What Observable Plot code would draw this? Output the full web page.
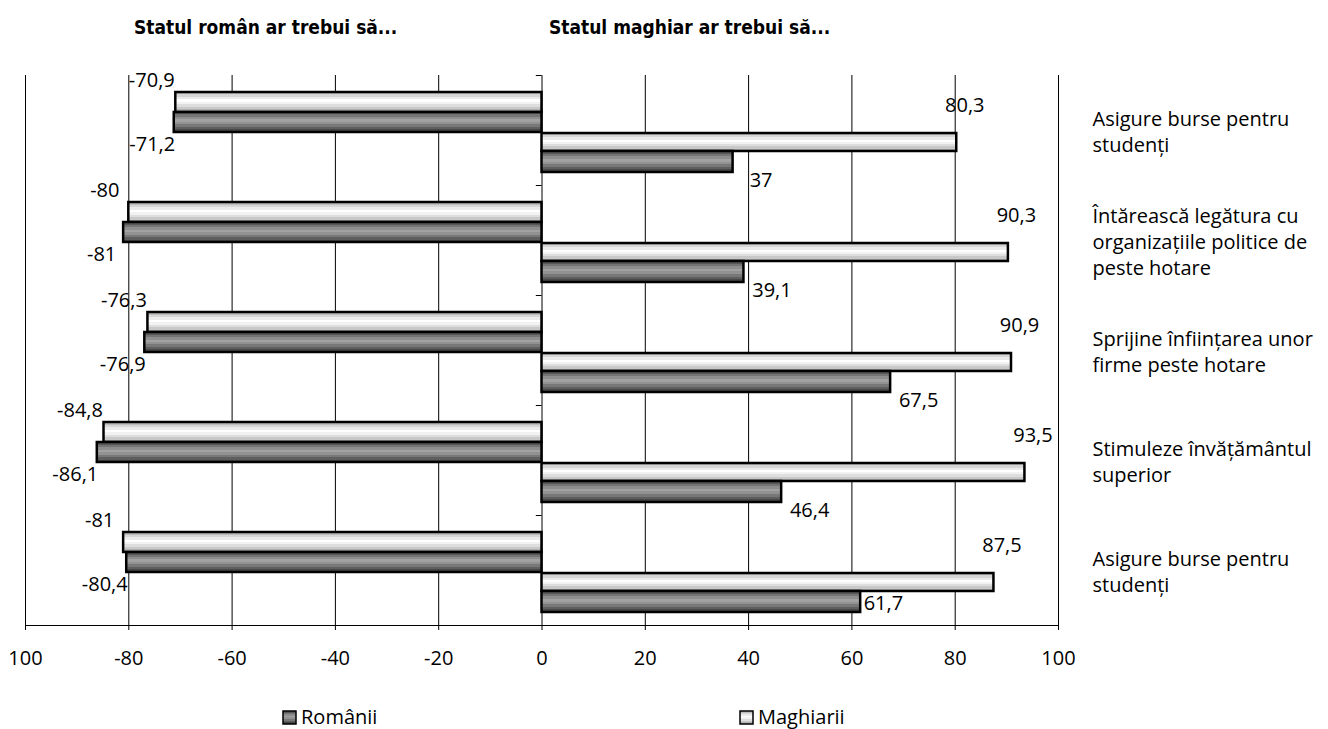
<!DOCTYPE html>
<html><head><meta charset="utf-8">
<script src="https://cdn.jsdelivr.net/npm/d3@7"></script>
<script src="https://cdn.jsdelivr.net/npm/@observablehq/plot@0.6"></script>
<style>
body{margin:0;background:#fff;}
#wrap{position:relative;width:1328px;height:729px;overflow:hidden;}
.title{position:absolute;top:14px;font-family:"Liberation Sans Narrow","DejaVu Sans Condensed",sans-serif;font-weight:bold;font-size:19px;color:#000;line-height:26px;white-space:nowrap;}
.leg{position:absolute;top:704px;font-family:"Open Sans",sans-serif;font-size:20px;color:#000;display:flex;align-items:center;gap:4px;line-height:26px;}
.leg svg{display:block;}
</style></head><body><div id="wrap"></div>
<script>
const categories = [
  "Asigure burse pentru\nstudenți",
  "Întărească legătura cu\norganizațiile politice de\npeste hotare",
  "Sprijine înființarea unor\nfirme peste hotare",
  "Stimuleze învățământul\nsuperior",
  "Asigure burse pentru\nstudenți"
];
const romanStateMaghiarii = [-70.9, -80, -76.3, -84.8, -81];
const romanStateRomanii = [-71.2, -81, -76.9, -86.1, -80.4];
const hungarianStateMaghiarii = [80.3, 90.3, 90.9, 93.5, 87.5];
const hungarianStateRomanii = [37, 39.1, 67.5, 46.4, 61.7];
const xTicks = [-100, -80, -60, -40, -20, 0, 20, 40, 60, 80, 100];
const xTickLabels = ["100", "-80", "-60", "-40", "-20", "0", "20", "40", "60", "80", "100"];
const panelTitles = ["Statul român ar trebui să...", "Statul maghiar ar trebui să..."];
const seriesNames = ["Românii", "Maghiarii"];

const rows = categories.map((c, i) => ({
  i,
  rm: romanStateMaghiarii[i],
  rr: romanStateRomanii[i],
  hm: hungarianStateMaghiarii[i],
  hr: hungarianStateRomanii[i]
}));
const last = categories.length - 1;
const fmt = v => String(v).replace(".", ",");

const lightStops = ["#bdbdbd","#d6d6d6","#ebebeb","#ffffff","#f2f2f2","#dedede","#c8c8c8","#b2b2b2"];
const darkStops = ["#585858","#747474","#8e8e8e","#a2a2a2","#929292","#787878","#5e5e5e","#484848"];

function gradient(defs, id, stops) {
  const g = defs.append("linearGradient").attr("id", id)
    .attr("x1", 0).attr("y1", 0).attr("x2", 0).attr("y2", 1);
  const n = stops.length;
  stops.forEach((c, k) => {
    g.append("stop").attr("offset", k / n).attr("stop-color", c);
    g.append("stop").attr("offset", (k + 1) / n).attr("stop-color", c);
  });
}
const defsMark = () => {
  const defs = d3.create("svg:defs");
  gradient(defs, "gLight", lightStops);
  gradient(defs, "gDark", darkStops);
  return defs.node();
};

const barStyle = {y: "i", stroke: "#000", strokeWidth: 2.5};
const textStyle = {y: "i", fontSize: 20};

const chart = Plot.plot({
  width: 1328,
  height: 729,
  marginLeft: 25,
  marginRight: 270,
  marginTop: 75,
  marginBottom: 104,
  style: {fontFamily: "'Open Sans', sans-serif", fontSize: "20px", color: "#000", background: "transparent"},
  x: {domain: [-100, 100]},
  y: {domain: d3.range(categories.length), padding: 0},
  marks: [
    defsMark,
    Plot.ruleX(xTicks, {stroke: "#000", strokeWidth: 1}),
    Plot.ruleY(d3.range(categories.length), {x1: -1.1, x2: 0, dy: -55, stroke: "#000"}),
    Plot.ruleY([last], {dy: 55, stroke: "#000"}),
    Plot.axisX({ticks: xTicks, tickFormat: d => xTickLabels[xTicks.indexOf(d)], tickSize: 5, tickPadding: 20, fontSize: 20, label: null}),
    Plot.axisY({anchor: "right", tickSize: 0, tickPadding: 34, textAnchor: "start", lineHeight: 1.32, fontSize: 20, label: null, tickFormat: i => categories[i]}),
    Plot.barX(rows, {...barStyle, x1: 0, x2: "rm", fill: "url(#gLight)", insetTop: 17, insetBottom: 73}),
    Plot.barX(rows, {...barStyle, x1: 0, x2: "rr", fill: "url(#gDark)", insetTop: 37, insetBottom: 53}),
    Plot.barX(rows, {...barStyle, x1: 0, x2: "hm", fill: "url(#gLight)", insetTop: 58, insetBottom: 34}),
    Plot.barX(rows, {...barStyle, x1: 0, x2: "hr", fill: "url(#gDark)", insetTop: 76, insetBottom: 13}),
    Plot.text(rows, {...textStyle, x: "rm", text: d => fmt(d.rm), dx: -24, dy: -50}),
    Plot.text(rows, {...textStyle, x: "rr", text: d => fmt(d.rr), dx: -22, dy: 14}),
    Plot.text(rows, {...textStyle, x: "hm", text: d => fmt(d.hm), dx: 8, dy: -25}),
    Plot.text(rows.filter(d => d.i !== last), {...textStyle, x: "hr", text: d => fmt(d.hr), dx: 28, dy: 50}),
    Plot.text(rows.filter(d => d.i === last), {...textStyle, x: "hr", text: d => fmt(d.hr), textAnchor: "start", dx: 3, dy: 33})
  ]
});

const wrap = document.getElementById("wrap");
wrap.appendChild(chart);

[[panelTitles[0], 134], [panelTitles[1], 549]].forEach(([t, x]) => {
  const d = document.createElement("div");
  d.className = "title";
  d.style.left = x + "px";
  d.textContent = t;
  wrap.appendChild(d);
});

[[seriesNames[0], "gDark", 282], [seriesNames[1], "gLight", 739]].forEach(([name, grad, x]) => {
  const d = document.createElement("div");
  d.className = "leg";
  d.style.left = x + "px";
  d.innerHTML = `<svg width="15" height="15"><rect x="1" y="1" width="13" height="13" fill="url(#${grad})" stroke="#000" stroke-width="1.5"/></svg><span>${name}</span>`;
  wrap.appendChild(d);
});
</script>
</body></html>
